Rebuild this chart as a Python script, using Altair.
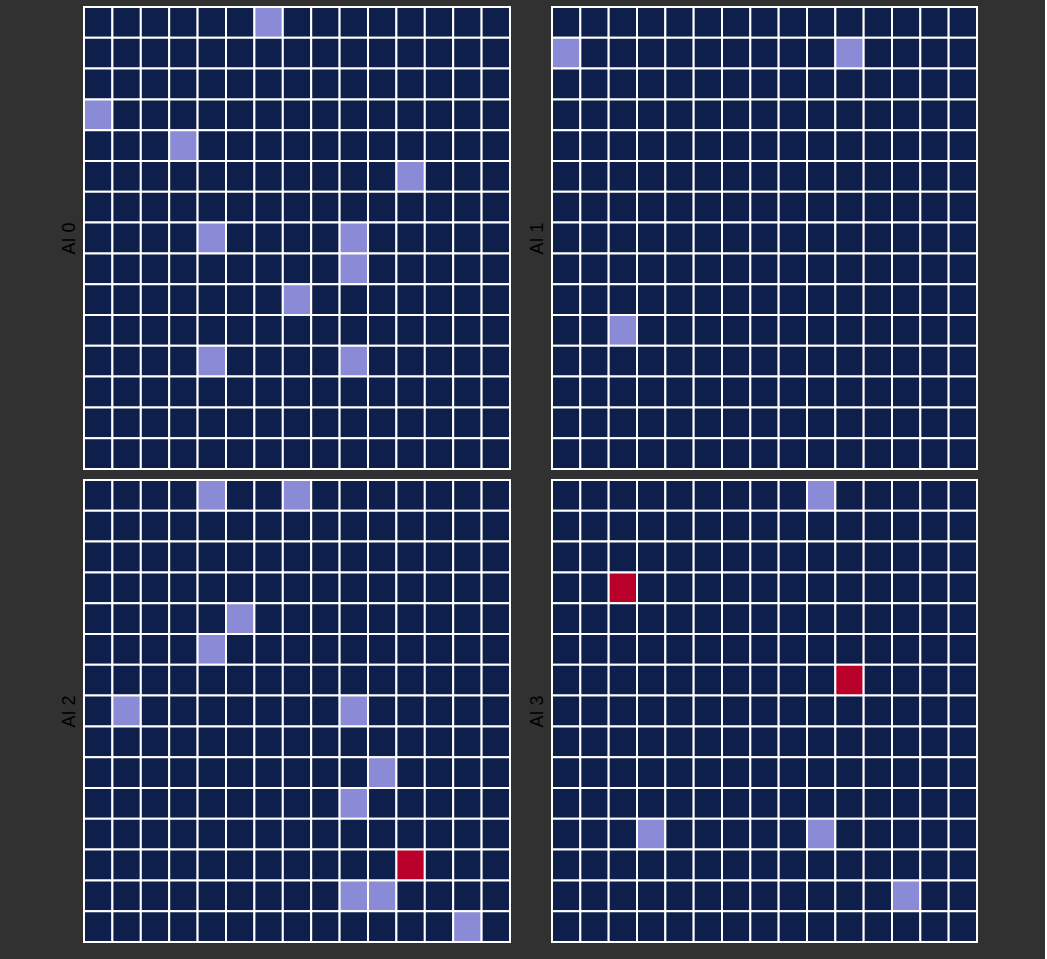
import altair as alt
import pandas as pd

# Grid size
n_rows = 15
n_cols = 15

# Highlighted cells per panel: (row, col)
ai0_light = [(0, 6), (3, 0), (4, 3), (5, 11), (7, 4), (7, 9), (8, 9), (9, 7), (11, 4), (11, 9)]
ai0_red = []
ai1_light = [(1, 0), (1, 10), (10, 2)]
ai1_red = []
ai2_light = [(0, 4), (0, 7), (4, 5), (5, 4), (7, 1), (7, 9), (9, 10), (10, 9), (13, 9), (13, 10), (14, 13)]
ai2_red = [(12, 11)]
ai3_light = [(0, 9), (11, 3), (11, 9), (13, 12)]
ai3_red = [(3, 2), (6, 10)]

panel_names = ["AI 0", "AI 1", "AI 2", "AI 3"]
state_names = ["empty", "light", "red"]
state_colors = ["#0e1f4b", "#8a8ad6", "#b8002a"]


def make_df(light, red):
    rows = []
    ls = set(light)
    rs = set(red)
    for r in range(n_rows):
        for c in range(n_cols):
            if (r, c) in rs:
                s = "red"
            elif (r, c) in ls:
                s = "light"
            else:
                s = "empty"
            rows.append({"row": r, "col": c, "state": s})
    return pd.DataFrame(rows)


def panel(name, light, red, w, h):
    df = make_df(light, red)
    return (
        alt.Chart(df)
        .mark_rect(stroke="white", strokeWidth=2)
        .encode(
            x=alt.X("col:O", axis=None, scale=alt.Scale(paddingInner=0, paddingOuter=0)),
            y=alt.Y(
                "row:O",
                scale=alt.Scale(paddingInner=0, paddingOuter=0),
                axis=alt.Axis(
                    title=name,
                    labels=False,
                    ticks=False,
                    domain=False,
                    titleColor="#000000",
                    titleFontSize=18,
                    titleFontWeight="normal",
                    titlePadding=6,
                ),
            ),
            color=alt.Color(
                "state:N",
                scale=alt.Scale(domain=state_names, range=state_colors),
                legend=None,
            ),
        )
        .properties(width=w, height=h)
    )


p0 = panel(panel_names[0], ai0_light, ai0_red, 426, 462)
p1 = panel(panel_names[1], ai1_light, ai1_red, 425, 462)
p2 = panel(panel_names[2], ai2_light, ai2_red, 426, 462)
p3 = panel(panel_names[3], ai3_light, ai3_red, 425, 462)

chart = (
    alt.vconcat(
        alt.hconcat(p0, p1, spacing=17),
        alt.hconcat(p2, p3, spacing=17),
        spacing=9,
    )
    .properties(background="#313131", padding={"left": 60, "top": 6, "right": 67, "bottom": 16})
    .configure_view(stroke=None)
)

chart.save("out.html", embed_options={"renderer": "svg", "actions": False})
